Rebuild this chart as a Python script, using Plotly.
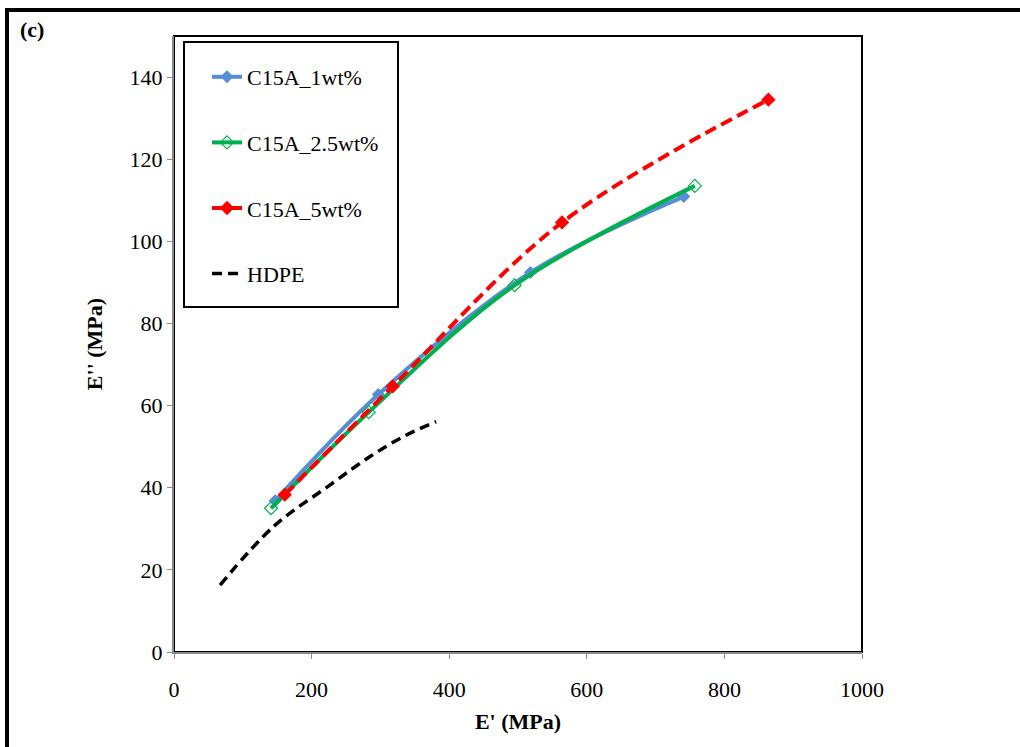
import plotly.graph_objects as go

# Data
c1_x = [147, 297, 518, 741]
c1_y = [36.8, 62.7, 92.4, 110.9]
c25_x = [141, 283, 495, 757]
c25_y = [35.0, 58.4, 89.3, 113.5]
c5_x = [161, 318, 564, 864]
c5_y = [38.3, 64.7, 104.6, 134.5]
hdpe_x = [67, 145, 227, 285, 334, 381]
hdpe_y = [16.3, 30.6, 40.7, 47.6, 52.5, 56.1]

FONT = "Liberation Serif"
FS = 22

fig = go.Figure()
fig.add_trace(go.Scatter(x=c1_x, y=c1_y, name="C15A_1wt%", mode="lines+markers",
                         line=dict(color="#558ED5", width=4, shape="spline"),
                         marker=dict(symbol="diamond", size=10, color="#558ED5"),
                         legendgroup="a"))
fig.add_trace(go.Scatter(x=c25_x, y=c25_y, name="C15A_2.5wt%", mode="lines+markers",
                         line=dict(color="#00B050", width=4, shape="spline"),
                         marker=dict(symbol="diamond-open", size=10, color="#00B050",
                                     line=dict(width=1.2, color="#00B050")),
                         legendgroup="b"))
fig.add_trace(go.Scatter(x=c5_x, y=c5_y, name="C15A_5wt%", mode="lines+markers",
                         line=dict(color="#FF0000", width=4, shape="spline", dash="12px,6px"),
                         marker=dict(symbol="diamond", size=11, color="#FF0000"),
                         legendgroup="c"))
fig.add_trace(go.Scatter(x=hdpe_x, y=hdpe_y, name="HDPE", mode="lines",
                         line=dict(color="black", width=3.5, shape="spline", dash="10px,6px"),
                         legendgroup="d"))

W, H = 1020, 747
L, R, T, B = 174, 158, 36, 95
pw, ph = W - L - R, H - T - B

def px(xp):
    return (xp - L) / pw

def py(yp):
    return (H - B - yp) / ph

shapes = [
    # outer frame
    dict(type="rect", xref="paper", yref="paper", x0=px(7), x1=px(1030), y0=py(770), y1=py(10),
         line=dict(color="black", width=4), layer="below"),
    # plot area border
    dict(type="rect", xref="paper", yref="paper", x0=0, x1=1, y0=0, y1=1,
         line=dict(color="black", width=2), layer="below"),
    # legend box
    dict(type="rect", xref="paper", yref="paper", x0=px(184), x1=px(398), y0=py(307), y1=py(42),
         line=dict(color="black", width=2), fillcolor="white", layer="below"),
]

fig.update_layout(
    width=W, height=H,
    margin=dict(l=L, r=R, t=T, b=B),
    paper_bgcolor="white", plot_bgcolor="white",
    font=dict(family=FONT, size=FS, color="black"),
    showlegend=True,
    legend=dict(x=px(207), y=py(56), xanchor="left", yanchor="top",
                bgcolor="rgba(0,0,0,0)", borderwidth=0,
                font=dict(family=FONT, size=FS),
                traceorder="grouped", tracegroupgap=34),
    shapes=shapes,
    annotations=[dict(text="<b>(c)</b>", xref="paper", yref="paper", x=px(18), y=py(30),
                      xanchor="left", yanchor="middle", showarrow=False,
                      font=dict(family=FONT, size=FS))],
    xaxis=dict(range=[0, 1000], dtick=200, tick0=0, showgrid=False, zeroline=False,
               showline=True, linecolor="#898989", linewidth=2,
               ticks="outside", ticklen=5, tickcolor="#898989", tickwidth=1,
               ticklabelstandoff=12,
               title=dict(text="<b>E' (MPa)</b>", font=dict(family=FONT, size=FS), standoff=12)),
    yaxis=dict(range=[0, 150], showgrid=False, zeroline=False,
               showline=True, linecolor="#898989", linewidth=2,
               ticks="outside", ticklen=5, tickcolor="#898989", tickwidth=1,
               tickvals=[0, 20, 40, 60, 80, 100, 120, 140],
               title=dict(text="<b>E'' (MPa)</b>", font=dict(family=FONT, size=FS), standoff=21)),
)

fig.write_html("out.html")
